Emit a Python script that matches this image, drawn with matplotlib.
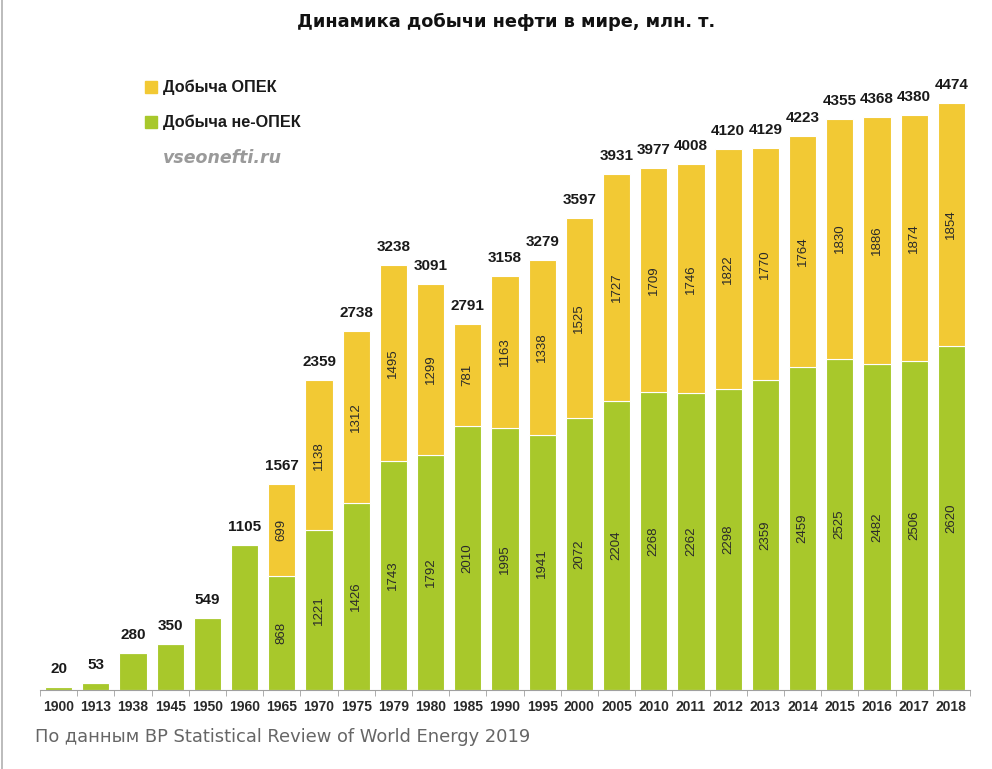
import matplotlib.pyplot as plt
import numpy as np

years = ['1900', '1913', '1938', '1945', '1950', '1960', '1965', '1970', '1975',
         '1979', '1980', '1985', '1990', '1995', '2000', '2005', '2010', '2011',
         '2012', '2013', '2014', '2015', '2016', '2017', '2018']
non_opec = [20, 53, 280, 350, 549, 1105, 868, 1221, 1426, 1743, 1792, 2010, 1995,
            1941, 2072, 2204, 2268, 2262, 2298, 2359, 2459, 2525, 2482, 2506, 2620]
opec = [0, 0, 0, 0, 0, 0, 699, 1138, 1312, 1495, 1299, 781, 1163, 1338, 1525,
        1727, 1709, 1746, 1822, 1770, 1764, 1830, 1886, 1874, 1854]
totals = [20, 53, 280, 350, 549, 1105, 1567, 2359, 2738, 3238, 3091, 2791, 3158,
          3279, 3597, 3931, 3977, 4008, 4120, 4129, 4223, 4355, 4368, 4380, 4474]
first_split = 6  # с 1965 года есть разбивка ОПЕК / не-ОПЕК

GREEN = '#a8c82b'
YELLOW = '#f2c934'

fig = plt.figure(figsize=(9.92, 7.69), dpi=100)
W, H = 992, 769
ax = fig.add_axes([40 / W, 1 - 690 / H, 930 / W, 620 / H])

x = np.arange(len(years))
ax.bar(x, non_opec, width=0.73, color=GREEN, edgecolor='white', linewidth=0.8)
ax.bar(x, opec, width=0.73, bottom=non_opec, color=YELLOW, edgecolor='white', linewidth=0.8)

ax.set_xlim(-0.46, 24.48)
ax.set_ylim(0, 620 / 0.1312)

# подписи внутри столбцов
for i in range(first_split, len(years)):
    ax.text(x[i], non_opec[i] / 2, str(non_opec[i]), rotation=90, ha='center', va='center',
            fontsize=9.5, color='#2a2a2a', family='Liberation Sans')
    ax.text(x[i], non_opec[i] + opec[i] / 2, str(opec[i]), rotation=90, ha='center',
            va='center', fontsize=9.5, color='#2a2a2a', family='Liberation Sans')

# итог над столбцом
for i in range(len(years)):
    ax.annotate(str(totals[i]), xy=(x[i], totals[i]), xytext=(0, 8),
                textcoords='offset points', ha='center', va='bottom',
                fontsize=11, fontweight='bold', color='#1a1a1a', family='Liberation Sans')

for s in ['top', 'right', 'left']:
    ax.spines[s].set_visible(False)
ax.spines['bottom'].set_color('#a0a0a0')
ax.set_yticks([])
ax.set_xticks(x)
ax.set_xticklabels(years, fontsize=10, fontweight='bold', color='#2a2a2a', family='Liberation Sans')
ax.tick_params(axis='x', which='major', length=0, pad=7)
ax.set_xticks(np.arange(-0.5, len(years), 1.0), minor=True)
ax.tick_params(axis='x', which='minor', length=4, color='#a0a0a0', direction='out')

fig.text(506 / W, 1 - 22 / H, 'Динамика добычи нефти в мире, млн. т.', ha='center', va='center',
         fontsize=12.8, fontweight='bold', color='#111111')

# легенда
for yy, col, lab in [(87, YELLOW, 'Добыча ОПЕК'), (122, GREEN, 'Добыча не-ОПЕК')]:
    fig.patches.append(plt.Rectangle((145 / W, 1 - (yy + 6) / H), 12 / W, 12 / H,
                                     transform=fig.transFigure, color=col))
    fig.text(163 / W, 1 - yy / H, lab, ha='left', va='center', fontsize=11.7,
             fontweight='bold', color='#1a1a1a', family='Liberation Sans')

fig.text(163 / W, 1 - 158 / H, 'vseonefti.ru', ha='left', va='center', fontsize=12.5,
         fontweight='bold', style='italic', color='#9a9a9a')

fig.text(35 / W, 1 - 737 / H, 'По данным BP Statistical Review of World Energy 2019',
         ha='left', va='center', fontsize=12.9, color='#666666')

fig.add_artist(plt.Line2D([2 / W, 2 / W], [0, 1], color='#b0b0b0', linewidth=1.2))

fig.savefig('out.png', dpi=100)
